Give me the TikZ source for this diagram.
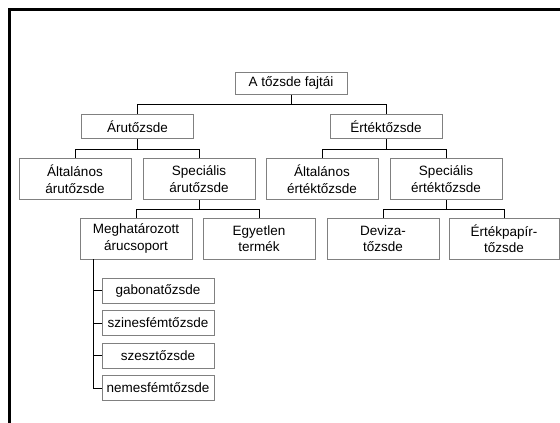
\documentclass[tikz,border=0pt]{standalone}
\usepackage{fontspec}
\setmainfont{Liberation Sans}
\definecolor{boxgray}{RGB}{128,128,128}
\begin{document}
\begin{tikzpicture}[x=1pt,y=-1pt,
  box/.style={draw=boxgray, line width=1pt, fill=white, rectangle, minimum width=112pt, inner sep=1pt, align=center, font=\fontsize{13.5}{16.5}\selectfont},
  onebox/.style={box, minimum height=24pt},
  twobox/.style={box, minimum height=41pt},
  link/.style={draw=black, line width=0.9pt}]
\useasboundingbox (0,0) rectangle (560,423);
\fill[white] (0,0) rectangle (560,423);
\draw[line width=3pt] (9.5,423) -- (9.5,9.5) -- (560,9.5);

\node[onebox, minimum height=22pt] (root) at (291,83) {A tőzsde fajtái};
\node[onebox] (aru) at (137.5,126.5) {Árutőzsde};
\node[onebox] (ert) at (386,126.5) {Értéktőzsde};

\node[twobox] (altaru) at (75,179) {Általános\\árutőzsde};
\node[twobox] (specaru) at (199,179) {Speciális\\árutőzsde};
\node[twobox] (altert) at (322,179) {Általános\\értéktőzsde};
\node[twobox] (specert) at (446,179) {Speciális\\értéktőzsde};

\node[twobox] (mega) at (136,238.5) {Meghatározott\\árucsoport};
\node[twobox] (egy) at (259,238.5) {Egyetlen\\termék};
\node[twobox] (dev) at (383,238.5) {Deviza-\\tőzsde};
\node[twobox, minimum width=110pt] (papir) at (504,238.5) {Értékpapír-\\tőzsde};

\node[onebox, minimum height=25pt] (g1) at (158,290.5) {gabonatőzsde};
\node[onebox, minimum height=25pt] (g2) at (158,323) {szinesfémtőzsde};
\node[onebox, minimum height=25pt] (g3) at (158,355.5) {szesztőzsde};
\node[onebox, minimum height=25pt] (g4) at (158,388) {nemesfémtőzsde};

\coordinate (j0) at (291,104.5);
\coordinate (j1) at (137.5,149);
\coordinate (j2) at (386,149);
\coordinate (j3) at (199,209);
\coordinate (j4) at (446,209);
\coordinate (t0) at (93,259);

\draw[link] (root) -- (j0) -| (aru);
\draw[link] (j0) -| (ert);
\draw[link] (aru) -- (j1) -| (altaru);
\draw[link] (j1) -| (specaru);
\draw[link] (ert) -- (j2) -| (altert);
\draw[link] (j2) -| (specert);
\draw[link] (specaru) -- (j3) -| (mega);
\draw[link] (j3) -| (egy);
\draw[link] (specert) -- (j4) -| (dev);
\draw[link] (j4) -| (papir);
\draw[link] (t0) |- (g4.west);
\draw[link] (t0) |- (g1.west);
\draw[link] (t0) |- (g2.west);
\draw[link] (t0) |- (g3.west);
\end{tikzpicture}
\end{document}
